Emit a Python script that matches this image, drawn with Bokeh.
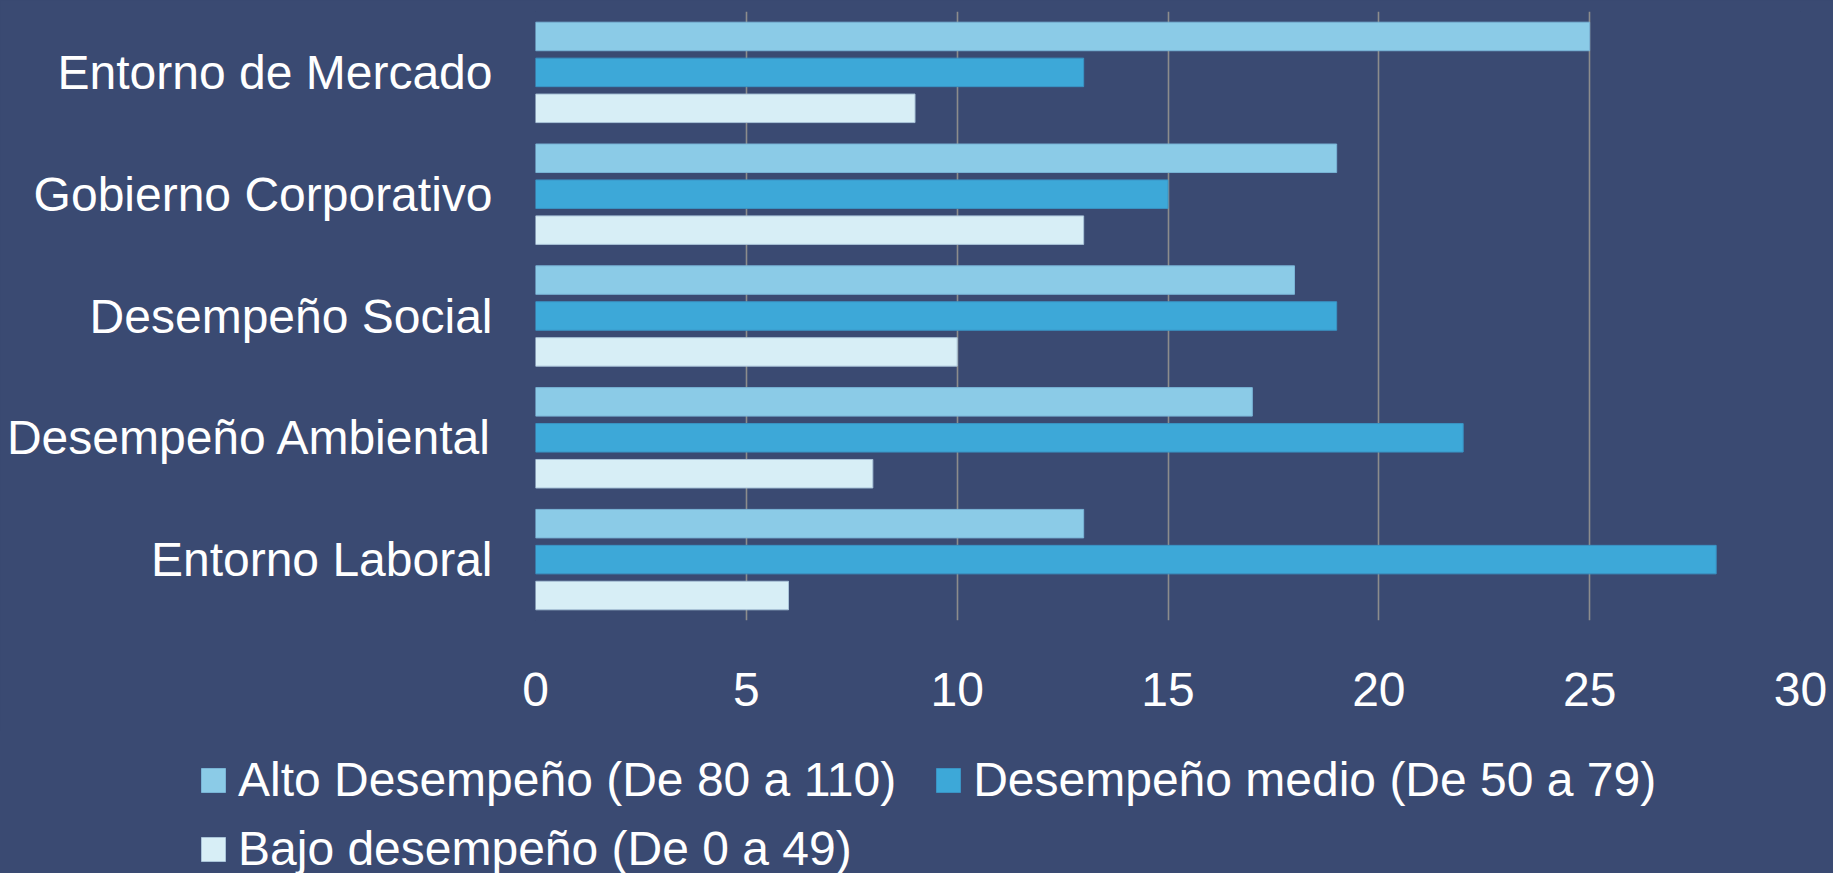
from bokeh.plotting import figure
from bokeh.models import (FactorRange, Range1d, FixedTicker, Legend, LegendItem,
                          Label, ColumnDataSource)
from bokeh.transform import dodge
from bokeh.embed import file_html
from bokeh.resources import INLINE

# ---- data ----
categories = ["Entorno de Mercado", "Gobierno Corporativo", "Desempeño Social",
              "Desempeño Ambiental", "Entorno Laboral"]
alto = [25, 19, 18, 17, 13]
medio = [13, 15, 19, 22, 28]
bajo = [9, 13, 10, 8, 6]
series_labels = ["Alto Desempeño (De 80 a 110)",
                 "Desempeño medio (De 50 a 79)",
                 "Bajo desempeño (De 0 a 49)"]
x_ticks = [0, 5, 10, 15, 20, 25, 30]
source_note = "Fuente: Resultado BCE ANDESCO 2010"

# ---- style ----
BG = "#3A4A72"
C_ALTO, C_MEDIO, C_BAJO = "#8BCBE7", "#3DA8D8", "#D7EEF6"
E_ALTO, E_MEDIO, E_BAJO = "#79B4D6", "#3A93C4", "#A9C3D8"
FONT = "Liberation Sans"
FS = "48px"
W = 1833
H1 = 730
H2 = 873 - H1

src = ColumnDataSource(dict(cat=categories, alto=alto, medio=medio, bajo=bajo))

p = figure(width=W, height=H1,
           y_range=FactorRange(factors=list(reversed(categories))),
           x_range=Range1d(0, 30),
           output_backend="svg", toolbar_location=None,
           min_border_left=535, min_border_right=33,
           min_border_top=11, min_border_bottom=H1 - 620)
p.background_fill_color = BG
p.border_fill_color = BG
p.outline_line_color = None

BW = 0.234
OFF = 0.295
bar_kw = dict(left=0, height=BW, source=src, line_width=1)
r1 = p.hbar(y=dodge("cat", OFF, range=p.y_range), right="alto",
            fill_color=C_ALTO, line_color=E_ALTO, **bar_kw)
r2 = p.hbar(y=dodge("cat", 0.0, range=p.y_range), right="medio",
            fill_color=C_MEDIO, line_color=E_MEDIO, **bar_kw)
r3 = p.hbar(y=dodge("cat", -OFF, range=p.y_range), right="bajo",
            fill_color=C_BAJO, line_color=E_BAJO, **bar_kw)

# axes
p.xaxis.ticker = FixedTicker(ticks=x_ticks)
for ax in (p.xaxis, p.yaxis):
    ax.axis_line_color = None
    ax.major_tick_line_color = None
    ax.minor_tick_line_color = None
    ax.major_tick_out = 0
    ax.major_tick_in = 0
    ax.major_label_text_font = FONT
    ax.major_label_text_font_size = FS
    ax.major_label_text_color = "white"
p.xaxis.major_label_standoff = 52
p.yaxis.major_label_standoff = 43

p.xgrid.ticker = FixedTicker(ticks=x_ticks)
p.xgrid.grid_line_color = "#8C8C8C"
p.xgrid.grid_line_width = 1.6
p.ygrid.visible = False

# ---- legend strip (second root below the chart) ----
q = figure(width=W, height=H2, x_range=Range1d(0, 1), y_range=Range1d(0, 1),
           output_backend="svg", toolbar_location=None,
           min_border_left=0, min_border_right=0, min_border_top=0, min_border_bottom=0)
q.axis.visible = False
q.grid.visible = False
q.background_fill_color = BG
q.border_fill_color = BG
q.outline_line_color = None
# legend-key renderers: same series styles, parked fully outside this strip's range
key_src = ColumnDataSource(dict(y=[3.0], left=[3.0], right=[3.5]))
lkw = dict(y="y", left="left", right="right", height=0.1, source=key_src, line_width=1)
l1 = q.hbar(fill_color=C_ALTO, line_color=E_ALTO, **lkw)
l2 = q.hbar(fill_color=C_MEDIO, line_color=E_MEDIO, **lkw)
l3 = q.hbar(fill_color=C_BAJO, line_color=E_BAJO, **lkw)

def make_legend(items, loc):
    return Legend(items=items, orientation="horizontal", location=loc,
                  label_text_font=FONT, label_text_font_size=FS,
                  label_text_color="white", glyph_width=30, glyph_height=30,
                  label_standoff=10, spacing=37, padding=0, margin=0,
                  border_line_color=None, background_fill_alpha=0)

leg1 = make_legend([LegendItem(label=series_labels[0], renderers=[l1]),
                    LegendItem(label=series_labels[1], renderers=[l2])], (198, 66))
leg2 = make_legend([LegendItem(label=series_labels[2], renderers=[l3])], (198, -3))
q.add_layout(leg1, "center")
q.add_layout(leg2, "center")

note = Label(x=1332, y=-15, x_units="screen", y_units="screen", text=source_note,
             text_font=FONT, text_font_size="27px", text_font_style="bold",
             text_color="white", text_baseline="alphabetic")
q.add_layout(note)

html = file_html([p, q], INLINE)
html = html.replace("</head>", "<style>body{background-color:%s;}</style></head>" % BG, 1)
open("out.html", "w").write(html)
